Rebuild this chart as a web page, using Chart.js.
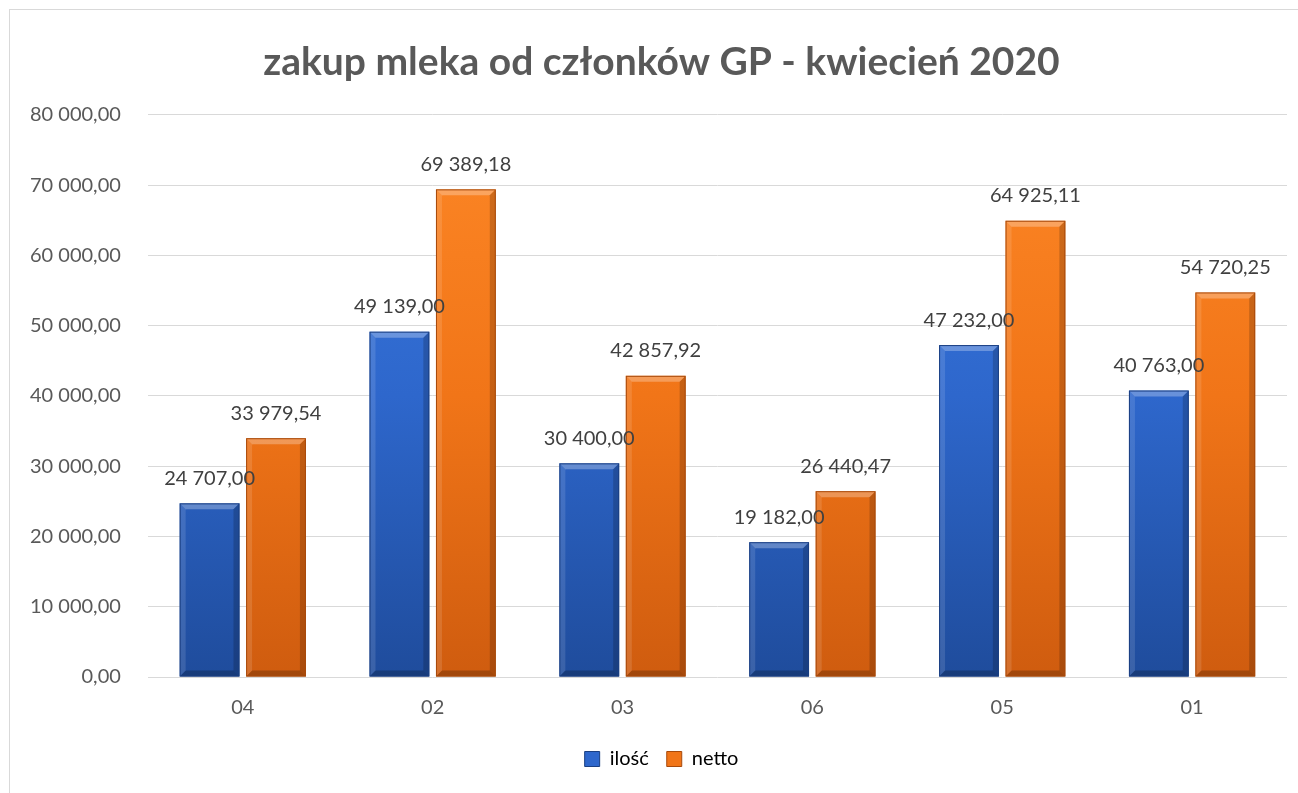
<!DOCTYPE html>
<html>
<head>
<meta charset="utf-8">
<script src="https://cdn.jsdelivr.net/npm/chart.js@4"></script>
<style>
  html, body { margin: 0; padding: 0; background: #fff; overflow: hidden; }
  #wrap { position: absolute; left: 0; top: 0; width: 1330px; height: 793px; }
</style>
</head>
<body>
<div id="wrap"><canvas id="c"></canvas></div>
<script>
// ── Data ──
const categories = ['04', '02', '03', '06', '05', '01'];
const ilosc = [24707.00, 49139.00, 30400.00, 19182.00, 47232.00, 40763.00];
const netto = [33979.54, 69389.18, 42857.92, 26440.47, 64925.11, 54720.25];
const yTicks = [0, 10000, 20000, 30000, 40000, 50000, 60000, 70000, 80000];

const FONT = "Lato, 'Open Sans', sans-serif";
const GREY = '#595959';

// ── Helpers ──
const fmtPl = n => {
  const [i, d] = n.toFixed(2).split('.');
  return i.replace(/\B(?=(\d{3})+(?!\d))/g, ' ') + ',' + d;
};

const palette = {
  blue: { top: '#3a7ae0', mid: '#2e67cc', bot: '#1f4c9c', edge: '#1a3f82' },
  orange: { top: '#fd8726', mid: '#f17518', bot: '#cf5c0f', edge: '#a84a0b' },
};

const barGradient = p => ctx => {
  const { chart } = ctx;
  const area = chart.chartArea;
  if (!area) return p.mid;
  const g = chart.ctx.createLinearGradient(0, area.top, 0, area.bottom);
  g.addColorStop(0, p.top);
  g.addColorStop(0.5, p.mid);
  g.addColorStop(1, p.bot);
  return g;
};

// ── Plugins ──
const frame = {
  id: 'frame',
  beforeDraw(chart) {
    const c = chart.ctx;
    c.save();
    c.strokeStyle = '#d9d9d9';
    c.lineWidth = 1;
    c.strokeRect(9.5, 9.5, chart.width - 19, chart.height + 20);
    c.restore();
  },
};

// bevel highlights on each bar, read from the bar elements
const bevel = {
  id: 'bevel',
  afterDatasetsDraw(chart) {
    const c = chart.ctx;
    chart.data.datasets.forEach((ds, di) => {
      const meta = chart.getDatasetMeta(di);
      const p = di === 0 ? palette.blue : palette.orange;
      meta.data.forEach(bar => {
        const { x, y, base, width } = bar.getProps(['x', 'y', 'base', 'width'], true);
        const l = x - width / 2, r = x + width / 2, b = 6;
        c.save();
        c.fillStyle = 'rgba(255,255,255,0.28)';
        c.beginPath();
        c.moveTo(l, y); c.lineTo(r, y); c.lineTo(r - b, y + b); c.lineTo(l + b, y + b); c.closePath();
        c.fill();
        c.fillStyle = 'rgba(255,255,255,0.12)';
        c.beginPath();
        c.moveTo(l, y); c.lineTo(l + b, y + b); c.lineTo(l + b, base - b); c.lineTo(l, base); c.closePath();
        c.fill();
        c.fillStyle = 'rgba(0,0,0,0.18)';
        c.beginPath();
        c.moveTo(r, y); c.lineTo(r - b, y + b); c.lineTo(r - b, base - b); c.lineTo(r, base); c.closePath();
        c.fill();
        c.fillStyle = 'rgba(0,0,0,0.22)';
        c.beginPath();
        c.moveTo(l, base); c.lineTo(l + b, base - b); c.lineTo(r - b, base - b); c.lineTo(r, base); c.closePath();
        c.fill();
        c.strokeStyle = p.edge;
        c.lineWidth = 1;
        c.strokeRect(l + 0.5, y + 0.5, width - 1, base - y - 1);
        c.restore();
      });
    });
  },
};

const valueLabels = {
  id: 'valueLabels',
  afterDatasetsDraw(chart) {
    const c = chart.ctx;
    c.save();
    c.font = `20px ${FONT}`;
    c.fillStyle = '#404040';
    c.textAlign = 'center';
    c.textBaseline = 'bottom';
    chart.data.datasets.forEach((ds, di) => {
      chart.getDatasetMeta(di).data.forEach((bar, i) => {
        c.fillText(fmtPl(ds.data[i]), bar.x, bar.y - 15);
      });
    });
    c.restore();
  },
};

// ── Chart ──
new Chart(document.getElementById('c'), {
  type: 'bar',
  data: {
    labels: categories,
    datasets: [
      {
        label: 'ilość',
        data: ilosc,
        backgroundColor: barGradient(palette.blue),
        borderWidth: 0,
        barPercentage: 0.9,
        categoryPercentage: 0.7,
      },
      {
        label: 'netto',
        data: netto,
        backgroundColor: barGradient(palette.orange),
        borderWidth: 0,
        barPercentage: 0.9,
        categoryPercentage: 0.7,
      },
    ],
  },
  options: {
    responsive: true,
    maintainAspectRatio: false,
    animation: false,
    layout: { padding: { left: 3, right: 10, top: 20, bottom: 14 } },
    plugins: {
      title: {
        display: true,
        text: 'zakup mleka od członków GP - kwiecień 2020',
        color: GREY,
        font: { family: FONT, size: 39, weight: 'bold' },
        padding: { top: 19, bottom: 29 },
      },
      legend: {
        position: 'bottom',
        labels: {
          color: GREY,
          font: { family: FONT, size: 20 },
          boxWidth: 15,
          boxHeight: 15,
          padding: 18,
          generateLabels: chart => chart.data.datasets.map((ds, i) => ({
            text: ds.label,
            fillStyle: i === 0 ? palette.blue.mid : palette.orange.mid,
            strokeStyle: i === 0 ? palette.blue.edge : palette.orange.edge,
            lineWidth: 1,
            datasetIndex: i,
          })),
        },
      },
      tooltip: { enabled: false },
    },
    scales: {
      x: {
        grid: { display: false },
        border: { display: false },
        ticks: { color: GREY, font: { family: FONT, size: 20 }, padding: 11 },
      },
      y: {
        min: 0,
        max: 80000,
        afterBuildTicks: axis => { axis.ticks = yTicks.map(v => ({ value: v })); },
        grid: { color: '#d9d9d9', lineWidth: 1, drawTicks: false },
        border: { display: false },
        ticks: {
          color: GREY,
          font: { family: FONT, size: 20 },
          padding: 27,
          callback: v => fmtPl(v),
        },
      },
      // empty right-hand spacer, keeps the plot inside the visible window
      pad: {
        position: 'right',
        min: 0,
        max: 80000,
        grid: { display: false },
        border: { display: false },
        ticks: { display: false },
        afterFit: axis => { axis.width = 33; },
      },
    },
  },
  plugins: [frame, bevel, valueLabels],
});
</script>
</body>
</html>
